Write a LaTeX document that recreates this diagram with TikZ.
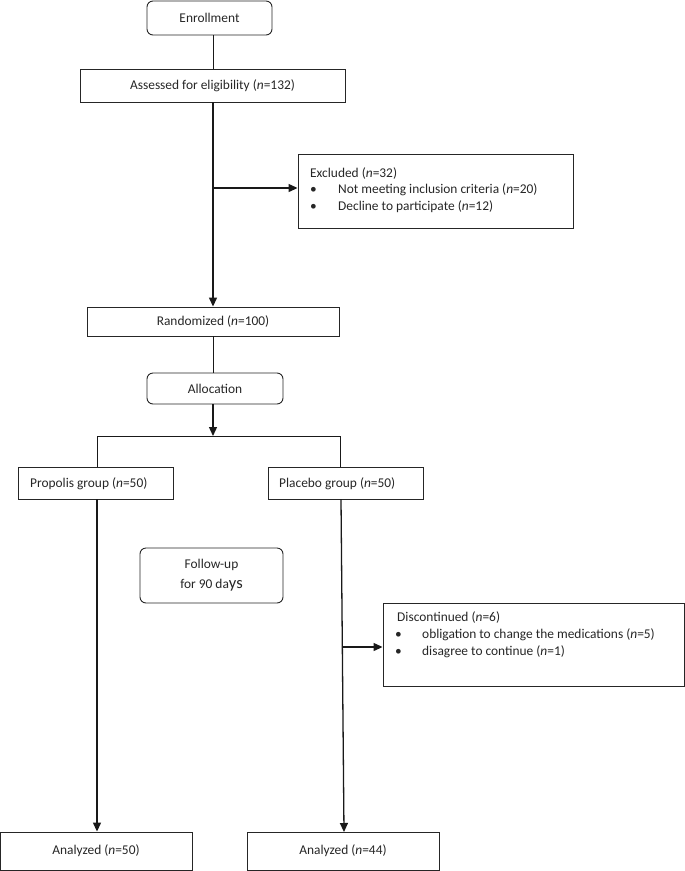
\documentclass[tikz,border=0pt]{standalone}
\usepackage{fontspec}
\setmainfont{Carlito}
\usetikzlibrary{arrows.meta}
\begin{document}
\begin{tikzpicture}[x=1pt,y=-1pt,
  every node/.style={font=\fontsize{13.4}{16}\selectfont, text=black!85},
  box/.style={draw=black!85, line width=0.9pt, inner sep=0pt, minimum width=#1},
  rbox/.style={box=#1, rounded corners=6pt},
  conn/.style={draw=black!90, line width=0.9pt},
  arr/.style={draw=black!90, line width=1.3pt, -{Triangle[length=9pt,width=8pt]}},
  lbl/.style={anchor=base west, inner sep=0pt}]
\useasboundingbox (0,0) rectangle (685,871);

% nodes
\node[rbox=125, minimum height=34] (enroll) at (209.5,18) {Enrollment};
\node[box=265, minimum height=33] (assess) at (212.5,85.5) {Assessed for eligibility (\textit{n}=132)};
\node[box=275, minimum height=74] (excl) at (435.5,191) {};
\node[lbl] (exT) at (310,177) {Excluded (\textit{n}=32)};
\node[lbl] (exB1) at (310,193.5) {\textbullet};
\node[lbl] (exI1) at (338,193.5) {Not meeting inclusion criteria (\textit{n}=20)};
\node[lbl] (exB2) at (310,210.5) {\textbullet};
\node[lbl] (exI2) at (338,210.5) {Decline to participate (\textit{n}=12)};

\node[box=252, minimum height=29] (rand) at (213,321.5) {Randomized (\textit{n}=100)};
\node[rbox=136, minimum height=31] (alloc) at (215,388.5) {Allocation};

\node[box=155, minimum height=32] (prop) at (95.5,483) {};
\node[lbl] (propT) at (30,487.5) {Propolis group (\textit{n}=50)};
\node[box=155, minimum height=32] (plac) at (345.5,483) {};
\node[lbl] (placT) at (279,487.5) {Placebo group (\textit{n}=50)};

\node[rbox=143, minimum height=55, align=center, font=\fontsize{13.4}{20}\selectfont] (follow) at (211.5,575.5) {Follow-up\\for 90 da{\fontsize{16.5}{16}\selectfont ys}};

\node[box=301, minimum height=83] (disc) at (533.5,644.5) {};
\node[lbl] (dT) at (397,621.5) {Discontinued (\textit{n}=6)};
\node[lbl] (dB1) at (395,638) {\textbullet};
\node[lbl] (dI1) at (422,638) {obligation to change the medications (\textit{n}=5)};
\node[lbl] (dB2) at (395,655) {\textbullet};
\node[lbl] (dI2) at (422,655) {disagree to continue (\textit{n}=1)};

\node[box=192, minimum height=38] (an1) at (96,851) {Analyzed (\textit{n}=50)};
\node[box=192, minimum height=38] (an2) at (343,851) {Analyzed (\textit{n}=44)};

% coordinates
\coordinate (trunk) at (213,0);
\coordinate (exc) at (213,188);
\coordinate (split) at (213,436);
\coordinate (splitL) at (97,436);
\coordinate (splitR) at (340,436);
\coordinate (lt) at (97,499);
\coordinate (rt) at (341,499);
\coordinate (rb) at (344,832);
\coordinate (dc) at (342.6,647);

% connectors
\draw[conn] (enroll.south -| trunk) -- (assess.north -| trunk);
\draw[arr] (assess.south -| trunk) -- (rand.north -| trunk);
\draw[arr] (exc) -- (exc -| excl.west);
\draw[conn] (rand.south -| trunk) -- (alloc.north -| trunk);
\draw[arr] (alloc.south -| trunk) -- (split);
\draw[conn] (prop.north -| splitL) -- (splitL) -- (splitR) -- (plac.north -| splitR);
\draw[arr] (lt) -- (an1.north -| lt);
\draw[arr] (rt) -- (rb);
\draw[arr] (dc) -- (dc -| disc.west);
\end{tikzpicture}
\end{document}
